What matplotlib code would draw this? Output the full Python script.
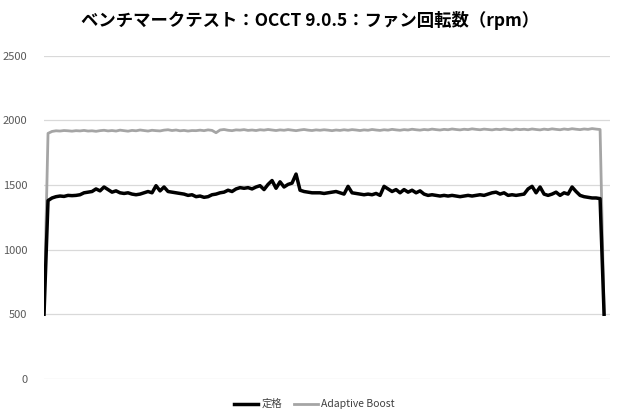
import matplotlib.pyplot as plt

plt.rcParams['font.family'] = ['Noto Sans CJK JP', 'DejaVu Sans']

# fan speed samples (rpm)
teikaku = [
    500, 1380, 1400, 1410, 1415, 1412, 1420, 1418, 1420, 1425,
    1440, 1445, 1450, 1470, 1455, 1485, 1465, 1445, 1455, 1440,
    1435, 1440, 1430, 1425, 1430, 1440, 1450, 1440, 1495, 1455,
    1485, 1450, 1445, 1440, 1435, 1430, 1420, 1425, 1410, 1415,
    1405, 1410, 1425, 1430, 1440, 1445, 1460, 1450, 1470, 1480,
    1475, 1480, 1470, 1485, 1495, 1465, 1505, 1535, 1475, 1525,
    1485, 1505, 1515, 1585, 1460, 1450, 1445, 1440, 1440, 1440,
    1435, 1440, 1445, 1450, 1440, 1430, 1490, 1440, 1435, 1430,
    1425, 1430, 1425, 1435, 1420, 1490, 1470, 1450, 1465, 1440,
    1465, 1445, 1460, 1440, 1455, 1430, 1420, 1425, 1420, 1415,
    1420, 1415, 1420, 1415, 1410, 1415, 1420, 1415, 1420, 1425,
    1420, 1430, 1440, 1445, 1430, 1440, 1420, 1425, 1420, 1425,
    1430, 1470, 1490, 1440, 1485, 1430, 1420, 1430, 1445, 1420,
    1440, 1430, 1485, 1450, 1420, 1410, 1405, 1400, 1400, 1395,
    500,
]

adaptive_boost = [
    500, 1900, 1915, 1920, 1918, 1922, 1920, 1917, 1921, 1919,
    1923, 1918, 1920, 1916, 1921, 1924, 1919, 1922, 1918, 1925,
    1921, 1917, 1923, 1920, 1926, 1922, 1918, 1924, 1921, 1919,
    1925, 1928, 1922, 1926, 1920, 1923, 1918, 1922, 1921, 1925,
    1921, 1927, 1923, 1905, 1926, 1930, 1924, 1921, 1927, 1925,
    1929, 1923, 1926, 1922, 1928, 1925, 1930, 1926, 1922, 1927,
    1924, 1929, 1925, 1921, 1926, 1930, 1925, 1922, 1927, 1924,
    1928, 1925, 1921, 1926, 1923, 1928, 1924, 1929, 1926, 1922,
    1927, 1924, 1930, 1926, 1923, 1928, 1925, 1931, 1927, 1924,
    1929, 1926, 1932, 1928, 1925, 1930, 1927, 1933, 1929, 1926,
    1931, 1928, 1934, 1930, 1927, 1932, 1929, 1935, 1931, 1928,
    1933, 1930, 1927, 1932, 1929, 1934, 1930, 1927, 1933, 1929,
    1932, 1928, 1934, 1930, 1927, 1933, 1929, 1935, 1931, 1928,
    1934, 1930, 1936, 1932, 1929, 1934, 1931, 1937, 1933, 1930,
    500,
]

x = list(range(len(teikaku)))

fig = plt.figure(figsize=(6.2, 4.2), dpi=100)
ax = fig.add_axes([0.071, 0.098, 0.913, 0.769])

ax.plot(x, teikaku, color='black', linewidth=2.5, label='定格', zorder=3)
ax.plot(x, adaptive_boost, color='#a5a5a5', linewidth=2.0, label='Adaptive Boost', zorder=2)

ax.set_ylim(0, 2500)
ax.set_xlim(0, 141.5)
ax.set_yticks([0, 500, 1000, 1500, 2000, 2500])
ax.yaxis.grid(True, color='#d9d9d9', linewidth=0.9)
ax.set_axisbelow(True)
ax.set_xticks([])
ax.tick_params(axis='y', length=0, pad=12, labelsize=8, labelcolor='#595959')
for s in ax.spines.values():
    s.set_visible(False)

fig.text(0.5, 0.952, 'ベンチマークテスト：OCCT 9.0.5：ファン回転数（rpm）',
         ha='center', va='center', fontsize=12.5, fontweight='bold')

fig.legend(loc='center', bbox_to_anchor=(0.507, 0.038), ncol=2, frameon=False,
           fontsize=7.5, handlelength=2.3, columnspacing=1.1, handletextpad=0.3,
           labelcolor='#404040')

fig.savefig('out.png', dpi=100)
